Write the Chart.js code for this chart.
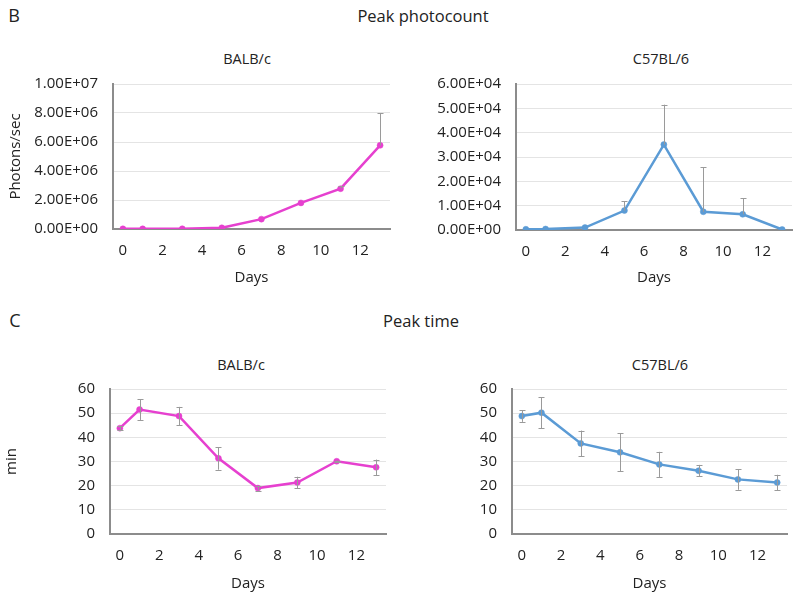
<!DOCTYPE html>
<html>
<head>
<meta charset="utf-8">
<script src="https://cdn.jsdelivr.net/npm/chart.js@4.4.1/dist/chart.umd.min.js"></script>
<style>
  body { margin: 0; background: #fff; font-family: "Open Sans", sans-serif; color: #222; }
  #page { position: relative; width: 800px; height: 596px; overflow: hidden; }
  .box { position: absolute; }
  .lbl { position: absolute; white-space: nowrap; transform: translate(-50%, -50%); }
</style>
</head>
<body>
<div id="page">
  <div class="lbl" style="left:14px;top:15px;font-size:18px">B</div>
  <div class="lbl" style="left:423px;top:15px;font-size:16.5px">Peak photocount</div>
  <div class="lbl" style="left:15px;top:320px;font-size:18px">C</div>
  <div class="lbl" style="left:421px;top:320px;font-size:16.5px">Peak time</div>

  <div class="lbl" style="left:247px;top:58px;font-size:14.5px">BALB/c</div>
  <div class="lbl" style="left:661px;top:58px;font-size:14.5px">C57BL/6</div>
  <div class="lbl" style="left:241px;top:364px;font-size:14.5px">BALB/c</div>
  <div class="lbl" style="left:660px;top:364px;font-size:14.5px">C57BL/6</div>

  <div class="box" style="left:0;top:60px;width:400px;height:230px"><canvas id="c1"></canvas></div>
  <div class="box" style="left:400px;top:60px;width:400px;height:230px"><canvas id="c2"></canvas></div>
  <div class="box" style="left:0;top:365px;width:400px;height:231px"><canvas id="c3"></canvas></div>
  <div class="box" style="left:400px;top:365px;width:400px;height:231px"><canvas id="c4"></canvas></div>
</div>
<script>
// Days sampled and x tick labels
const days = [0, 1, 3, 5, 7, 9, 11, 13];
const dayTicks = [0, 2, 4, 6, 8, 10, 12];

// Peak photocount (photons/sec), error bars shown upward only
const balbPhotons = [10000, 10000, 15000, 80000, 680000, 1800000, 2780000, 5770000];
const balbPhotonsErr = [0, 0, 0, 0, 0, 0, 190000, 2230000];
const c57Photons = [300, 400, 1000, 8000, 35100, 7500, 6450, 200];
const c57PhotonsErr = [0, 0, 0, 3900, 16400, 18300, 6550, 0];

// Peak time (min), symmetric error bars
const balbTime = [43.8, 51.5, 48.8, 31.3, 19.0, 21.3, 30.1, 27.6];
const balbTimeErr = [0.9, 4.3, 3.8, 4.7, 1.0, 2.4, 0.3, 3.2];
const c57Time = [48.8, 50.2, 37.5, 33.8, 28.8, 26.2, 22.6, 21.3];
const c57TimeErr = [2.4, 6.4, 5.3, 7.8, 5.2, 2.4, 4.3, 3.2];

const photonTicksBalb = [0, 2e6, 4e6, 6e6, 8e6, 1e7];
const photonTicksC57 = [0, 1e4, 2e4, 3e4, 4e4, 5e4, 6e4];
const timeTicks = [0, 10, 20, 30, 40, 50, 60];

const MAGENTA = '#e640cf';
const BLUE = '#5b9bd5';
const FONT = '"Open Sans", sans-serif';

function sci(v) {
    if (v === 0) return '0.00E+00';
    const exp = Math.floor(Math.log10(Math.abs(v)));
    const mant = (v / Math.pow(10, exp)).toFixed(2);
    return mant + 'E+' + String(exp).padStart(2, '0');
}

// draws the error bars through the chart's own scales
const errorBars = {
    id: 'errorBars',
    afterDatasetsDraw(chart, args, opts) {
        const ctx = chart.ctx;
        const xs = chart.scales.x, ys = chart.scales.y;
        const ds = chart.data.datasets[0];
        ctx.save();
        ctx.strokeStyle = '#9a9a9a';
        ctx.lineWidth = 1;
        ds.data.forEach((pt, i) => {
            const e = opts.err[i];
            if (!e) return;
            const x = Math.round(xs.getPixelForValue(pt.x)) + 0.5;
            const top = ys.getPixelForValue(pt.y + e);
            const bot = opts.both ? ys.getPixelForValue(pt.y - e) : ys.getPixelForValue(pt.y);
            ctx.beginPath();
            ctx.moveTo(x, top); ctx.lineTo(x, bot);
            ctx.moveTo(x - 3, Math.round(top) + 0.5); ctx.lineTo(x + 3, Math.round(top) + 0.5);
            if (opts.both) {
                ctx.moveTo(x - 3, Math.round(bot) + 0.5); ctx.lineTo(x + 3, Math.round(bot) + 0.5);
            }
            ctx.stroke();
        });
        ctx.restore();
    }
};

function makeChart(id, cfg) {
    const points = days.map((d, i) => ({ x: d, y: cfg.values[i] }));
    return new Chart(document.getElementById(id), {
        type: 'line',
        data: {
            datasets: [{
                data: points,
                borderColor: cfg.color,
                backgroundColor: cfg.color,
                borderWidth: 2.5,
                pointRadius: 3,
                pointBorderWidth: 0.5,
                pointHoverRadius: 3,
                tension: 0
            }]
        },
        options: {
            responsive: true,
            maintainAspectRatio: false,
            animation: false,
            layout: { padding: { top: cfg.padTop, right: cfg.padRight, left: 0, bottom: 0 } },
            plugins: {
                legend: { display: false },
                tooltip: { enabled: false },
                errorBars: { err: cfg.err, both: cfg.both }
            },
            scales: {
                x: {
                    type: 'linear',
                    min: -0.5,
                    max: 13.5,
                    afterBuildTicks: (s) => { s.ticks = dayTicks.map(v => ({ value: v })); },
                    afterFit: (s) => { s.height = cfg.xHeight; },
                    grid: { display: false, drawTicks: false },
                    border: { display: true, color: '#8c8c8c', width: 2 },
                    ticks: { padding: 13, color: '#222', font: { family: FONT, size: 15 } },
                    title: {
                        display: true, text: 'Days', color: '#222',
                        font: { family: FONT, size: 15 }, padding: { top: 0, bottom: 3 }
                    }
                },
                y: {
                    min: 0,
                    max: cfg.ticks[cfg.ticks.length - 1],
                    afterBuildTicks: (s) => { s.ticks = cfg.ticks.map(v => ({ value: v })); },
                    afterFit: (s) => { s.width = cfg.yWidth; },
                    grid: { color: '#e4e4e4', lineWidth: 1, drawTicks: false },
                    border: { display: true, color: '#8c8c8c', width: 2 },
                    ticks: {
                        padding: 15, color: '#222', font: { family: FONT, size: 15 },
                        callback: cfg.fmt
                    },
                    title: {
                        display: !!cfg.yTitle, text: cfg.yTitle || '', color: '#222',
                        font: { family: FONT, size: 15 }, padding: { top: cfg.yTitlePad || 6, bottom: 0 }
                    }
                }
            }
        },
        plugins: [errorBars]
    });
}

makeChart('c1', { values: balbPhotons, err: balbPhotonsErr, both: false, color: MAGENTA,
    ticks: photonTicksBalb, fmt: sci, yTitle: 'Photons/sec', yTitlePad: 7,
    padTop: 13, padRight: 10, yWidth: 113, xHeight: 61 });
makeChart('c2', { values: c57Photons, err: c57PhotonsErr, both: false, color: BLUE,
    ticks: photonTicksC57, fmt: sci, yTitle: '',
    padTop: 15, padRight: 8, yWidth: 116, xHeight: 60 });
makeChart('c3', { values: balbTime, err: balbTimeErr, both: true, color: MAGENTA,
    ticks: timeTicks, fmt: v => String(v), yTitle: 'min', yTitlePad: 3,
    padTop: 13, padRight: 14, yWidth: 110, xHeight: 62 });
makeChart('c4', { values: c57Time, err: c57TimeErr, both: true, color: BLUE,
    ticks: timeTicks, fmt: v => String(v), yTitle: '',
    padTop: 13, padRight: 13, yWidth: 112, xHeight: 62 });
</script>
</body>
</html>
